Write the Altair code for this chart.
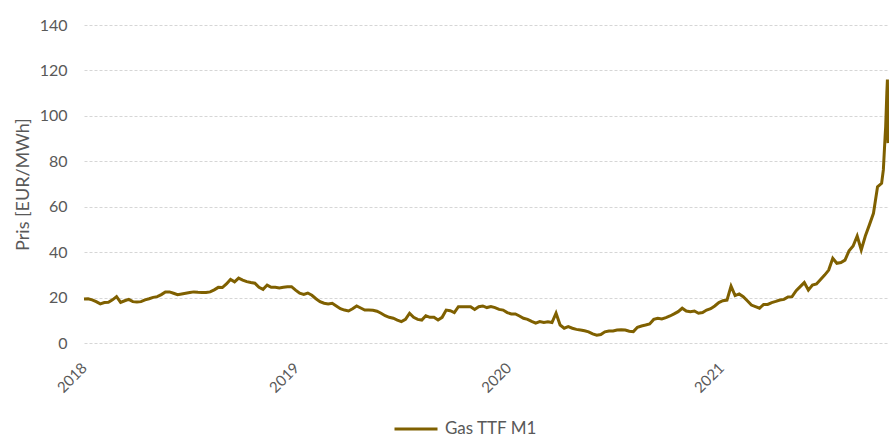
import altair as alt
import pandas as pd

# Front-month TTF gas price, weekly settlements from the first week of 2018
start_date = "2018-01-01"
ttf_weekly = [
    19.4, 19.5, 19.0, 18.2, 17.2, 17.8, 17.9, 19.0, 20.4, 17.9, 18.6, 19.2,
    18.2, 18.0, 18.2, 19.0, 19.5, 20.1, 20.4, 21.3, 22.5, 22.5, 21.9, 21.3,
    21.6, 21.9, 22.2, 22.5, 22.3, 22.2, 22.2, 22.5, 23.4, 24.5,
    24.4, 26.0, 28.0, 26.9, 28.6, 27.7, 27.0, 26.6, 26.3, 24.5, 23.6, 25.5,
    24.5, 24.5, 24.2, 24.5, 24.8, 24.8, 23.3, 21.9, 21.4, 22.0, 21.0, 19.5,
    18.2, 17.5, 17.2, 17.5, 16.3, 15.1, 14.5, 14.1,
    15.1, 16.3, 15.4, 14.5, 14.5, 14.4, 14.0, 13.1, 12.0, 11.3, 10.9, 10.1,
    9.4, 10.4, 13.1, 11.3, 10.4, 10.1, 12.0, 11.3, 11.3, 10.1, 11.3, 14.5,
    14.2, 13.4, 16.0, 16.0, 16.0, 16.0, 14.8, 16.0, 16.3,
    15.6, 16.0, 15.6, 14.8, 14.5, 13.4, 12.8, 12.8, 11.9, 10.9, 10.4, 9.5,
    8.7, 9.4, 9.0, 9.3, 9.0, 13.1, 7.9, 6.5, 7.2, 6.5, 6.0, 5.7,
    5.4, 4.9, 4.0, 3.4, 3.7, 4.9, 5.3, 5.3, 5.7,
    5.8, 5.7, 5.2, 5.0, 6.9, 7.5, 7.9, 8.4, 10.4, 10.9, 10.6, 11.2,
    11.9, 12.8, 13.8, 15.3, 14.1, 13.8, 14.1, 13.1, 13.4, 14.5, 15.1, 16.3,
    17.8, 18.6, 18.9, 25.0, 20.9, 21.6, 20.4, 18.6, 16.7,
    16.0, 15.3, 17.0, 17.0, 17.8, 18.3, 18.9, 19.2, 20.3, 20.4, 23.0, 24.8,
    26.6, 23.3, 25.5, 26.0, 28.0, 29.9, 32.1, 37.3, 35.1, 35.4, 36.5, 40.6,
    42.7, 47.1, 41.0, 47.1, 52.0, 57.1, 68.8, 70.3,
]

# Daily settlements through the October 2021 spike
tail_dates = ["2021-10-07", "2021-10-10", "2021-10-11", "2021-10-13",
              "2021-10-14", "2021-10-15"]
tail_values = [76.2, 90.8, 95.2, 110.0, 116.0, 88.0]

series_name = "Gas TTF M1"
y_ticks = [0, 20, 40, 60, 80, 100, 120, 140]
year_ticks = [2018, 2019, 2020, 2021]

weekly_dates = pd.date_range(start_date, periods=len(ttf_weekly), freq="7D")
df = pd.DataFrame({
    "date": list(weekly_dates) + list(pd.to_datetime(tail_dates)),
    "price": ttf_weekly + tail_values,
})
df["series"] = series_name

FONT = "Lato"
TEXT = "#595959"

x_values = [alt.DateTime(year=y, month=1, date=1) for y in year_ticks]

chart = (
    alt.Chart(df)
    .mark_line(strokeWidth=3, interpolate="linear")
    .encode(
        x=alt.X(
            "date:T",
            scale=alt.Scale(
                domain=[alt.DateTime(year=2018, month=1, date=1),
                        alt.DateTime(year=2021, month=10, date=15)],
                nice=False,
            ),
            axis=alt.Axis(
                values=x_values,
                format="%Y",
                labelAngle=-45,
                labelAlign="right",
                labelBaseline="middle",
                labelPadding=22,
                labelFont=FONT,
                labelFontSize=15,
                labelColor=TEXT,
                ticks=False,
                domain=False,
                grid=False,
                title=None,
            ),
        ),
        y=alt.Y(
            "price:Q",
            scale=alt.Scale(domain=[0, 140], nice=False),
            axis=alt.Axis(
                values=y_ticks,
                title="Pris [EUR/MWh]",
                titleFont=FONT,
                titleFontSize=18,
                titleFontWeight="normal",
                titleColor=TEXT,
                titlePadding=7,
                labelFont=FONT,
                labelFontSize=16,
                labelColor=TEXT,
                labelPadding=17,
                ticks=False,
                domain=False,
                grid=True,
                gridColor="#d6d6d6",
                gridDash=[3, 2],
                gridWidth=1,
            ),
        ),
        color=alt.Color(
            "series:N",
            scale=alt.Scale(domain=[series_name], range=["#7F6000"]),
            legend=alt.Legend(
                orient="none",
                legendX=309,
                legendY=381,
                title=None,
                symbolType="stroke",
                symbolSize=1849,
                symbolStrokeWidth=3,
                labelFont=FONT,
                labelFontSize=17,
                labelColor=TEXT,
                labelOffset=6,
            ),
        ),
    )
    .properties(
        width=804,
        height=318,
        background="white",
        autosize=alt.AutoSizeParams(type="none"),
        padding={"left": 84, "top": 25, "right": 1, "bottom": 94},
    )
    .configure_view(stroke=None)
)

chart.save("out.html", embed_options={"renderer": "svg", "actions": False})
